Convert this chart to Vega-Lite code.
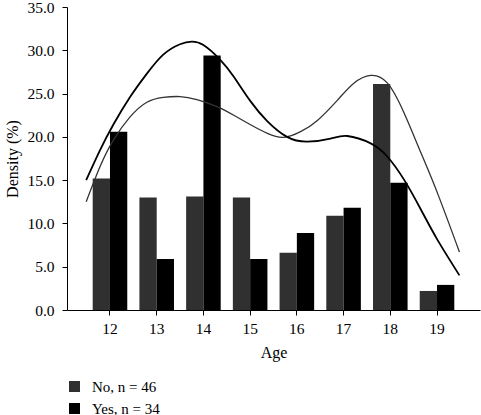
{
  "$schema": "https://vega.github.io/schema/vega-lite/v6.json",
  "width": 413,
  "height": 303,
  "autosize": {"type": "none"},
  "padding": {"left": 67, "top": 7, "right": 1, "bottom": 105},
  "background": "white",
  "config": {
    "font": "Liberation Serif",
    "view": {"stroke": null},
    "axis": {"labelFont": "Liberation Serif", "titleFont": "Liberation Serif", "labelColor": "black", "titleColor": "black", "domainColor": "black", "tickColor": "black", "labelFontSize": 15.5, "titleFontSize": 16, "titleFontWeight": "normal", "grid": false, "tickSize": 5}
  },
  "datasets": {
    "bars": [
      {"age": 12, "group": "No", "density": 15.2},
      {"age": 12, "group": "Yes", "density": 20.6},
      {"age": 13, "group": "No", "density": 13.0},
      {"age": 13, "group": "Yes", "density": 5.9},
      {"age": 14, "group": "No", "density": 13.1},
      {"age": 14, "group": "Yes", "density": 29.4},
      {"age": 15, "group": "No", "density": 13.0},
      {"age": 15, "group": "Yes", "density": 5.9},
      {"age": 16, "group": "No", "density": 6.6},
      {"age": 16, "group": "Yes", "density": 8.9},
      {"age": 17, "group": "No", "density": 10.9},
      {"age": 17, "group": "Yes", "density": 11.8},
      {"age": 18, "group": "No", "density": 26.1},
      {"age": 18, "group": "Yes", "density": 14.7},
      {"age": 19, "group": "No", "density": 2.2},
      {"age": 19, "group": "Yes", "density": 2.9}
    ],
    "curveNo": [
      {"x": 11.49, "y": 12.5}, {"x": 11.79, "y": 16.6}, {"x": 12.07, "y": 19.6}, {"x": 12.43, "y": 22.3},
      {"x": 12.79, "y": 24.0}, {"x": 13.14, "y": 24.55}, {"x": 13.5, "y": 24.65}, {"x": 13.86, "y": 24.3},
      {"x": 14.29, "y": 23.5}, {"x": 14.65, "y": 22.5}, {"x": 15.01, "y": 21.4}, {"x": 15.37, "y": 20.4},
      {"x": 15.72, "y": 19.95}, {"x": 16.08, "y": 20.6}, {"x": 16.44, "y": 21.9}, {"x": 16.87, "y": 24.25},
      {"x": 17.22, "y": 26.2}, {"x": 17.58, "y": 27.1}, {"x": 17.94, "y": 26.2}, {"x": 18.3, "y": 22.7},
      {"x": 18.66, "y": 18.1}, {"x": 19.01, "y": 13.5}, {"x": 19.48, "y": 6.7}
    ],
    "curveYes": [
      {"x": 11.49, "y": 15.0}, {"x": 11.79, "y": 18.5}, {"x": 12.07, "y": 21.4}, {"x": 12.43, "y": 24.6},
      {"x": 12.79, "y": 27.3}, {"x": 13.14, "y": 29.5}, {"x": 13.5, "y": 30.7}, {"x": 13.75, "y": 31.0},
      {"x": 14.0, "y": 30.6}, {"x": 14.36, "y": 28.9}, {"x": 14.65, "y": 26.95}, {"x": 15.01, "y": 24.1},
      {"x": 15.37, "y": 21.8}, {"x": 15.79, "y": 20.0}, {"x": 16.22, "y": 19.45}, {"x": 16.72, "y": 19.8},
      {"x": 17.08, "y": 20.1}, {"x": 17.58, "y": 19.25}, {"x": 17.94, "y": 17.7}, {"x": 18.3, "y": 15.0},
      {"x": 18.66, "y": 11.55}, {"x": 19.01, "y": 8.1}, {"x": 19.48, "y": 4.0}
    ]
  },
  "layer": [
    {
      "data": {"name": "bars"},
      "mark": {"type": "bar"},
      "encoding": {
        "x": {"field": "age", "type": "ordinal", "title": "Age",
          "scale": {"paddingInner": 0.26, "paddingOuter": 0.55},
          "axis": {"labelAngle": 0, "labelPadding": 6, "titlePadding": 8}},
        "xOffset": {"field": "group", "type": "nominal", "scale": {"paddingInner": 0, "paddingOuter": 0}},
        "y": {"field": "density", "type": "quantitative", "title": "Density (%)",
          "scale": {"domain": [0, 35], "nice": false},
          "axis": {"values": [0, 5, 10, 15, 20, 25, 30, 35], "format": ".1f", "labelPadding": 8, "titlePadding": 6}},
        "color": {"field": "group", "type": "nominal",
          "scale": {"domain": ["No", "Yes"], "range": ["#303030", "#000000"]},
          "legend": {"title": null, "orient": "none", "legendX": 0, "legendY": 372, "direction": "vertical",
            "symbolType": "square", "symbolSize": 121, "symbolStrokeWidth": 0, "labelFont": "Liberation Serif",
            "labelFontSize": 15, "labelColor": "black", "labelOffset": 10, "rowPadding": 6, "padding": 0,
            "labelExpr": "datum.label == 'No' ? 'No, n = 46' : 'Yes, n = 34'"}}
      }
    },
    {
      "data": {"name": "curveNo"},
      "mark": {"type": "line", "interpolate": "natural", "color": "#333333", "strokeWidth": 1.3},
      "encoding": {
        "x": {"field": "x", "type": "quantitative", "scale": {"domain": [11.08, 19.92], "nice": false, "zero": false}, "axis": null},
        "y": {"field": "y", "type": "quantitative"}
      }
    },
    {
      "data": {"name": "curveYes"},
      "mark": {"type": "line", "interpolate": "natural", "color": "#000000", "strokeWidth": 1.8},
      "encoding": {
        "x": {"field": "x", "type": "quantitative", "scale": {"domain": [11.08, 19.92], "nice": false, "zero": false}, "axis": null},
        "y": {"field": "y", "type": "quantitative"}
      }
    }
  ],
  "resolve": {"scale": {"x": "independent"}}
}
